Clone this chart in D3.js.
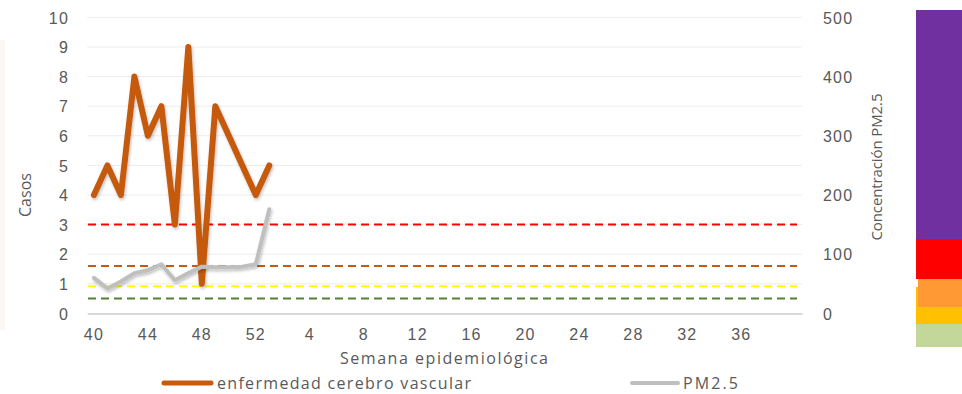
<!DOCTYPE html>
<html>
<head>
<meta charset="utf-8">
<script src="https://cdn.jsdelivr.net/npm/d3@7"></script>
<style>
  body { margin: 0; background: #fff; }
  svg { display: block; font-family: "Open Sans", sans-serif; }
  .tick text { fill: #595959; font-size: 16px; letter-spacing: 1.2px; }
</style>
</head>
<body>
<div id="main"></div>
<script>
// semanas epidemiologicas: 40..52 y luego 1..40
const weeks = d3.range(40, 53).concat(d3.range(1, 41));
const casos = [4, 5, 4, 8, 6, 7, 3, 9, 1, 7, 6, 5, 4, 5];
const pm25 = [60, 42, 54, 68, 73, 83, 56, 68, 79, 78, 78, 79, 83, 176];
const leftTicks = d3.range(0, 11);
const rightTicks = [0, 100, 200, 300, 400, 500];
const limits = [25, 46, 80, 150];
const limitColors = ["#548235", "#FFFF00", "#C55A11", "#FF0000"];
const bandColors = ["#7030A0", "#FF0000", "#FFC000", "#FF9933", "#C4D79B"];

const width = 962;
const height = 394;
const margin = { top: 17.4, right: 160, bottom: 81, left: 87.2 };

const svg = d3.select("#main")
  .append("svg")
  .attr("width", width)
  .attr("height", height);

const defs = svg.append("defs");
const shadow = defs.append("filter").attr("id", "shadow")
  .attr("x", "-20%").attr("y", "-20%").attr("width", "140%").attr("height", "140%");
shadow.append("feDropShadow")
  .attr("dx", 1).attr("dy", 2).attr("stdDeviation", 1.5)
  .attr("flood-color", "#000").attr("flood-opacity", 0.25);

// faint strip at left edge
svg.append("rect")
  .attr("x", 0).attr("y", 40).attr("width", 5).attr("height", 290)
  .attr("fill", "#FCF7F2");

const x = d3.scaleBand()
  .domain(weeks.map((d, i) => i))
  .range([margin.left, 802]);

const yLeft = d3.scaleLinear().domain([0, 10]).range([313.4, margin.top]);
const yRight = d3.scaleLinear().domain([0, 500]).range([313.4, margin.top]);

const cx = i => x(i) + x.bandwidth() / 2;

// gridlines
svg.append("g")
  .selectAll("line")
  .data(leftTicks.filter(d => d > 0))
  .enter()
  .append("line")
  .attr("x1", 87.2).attr("x2", 802)
  .attr("y1", d => yLeft(d)).attr("y2", d => yLeft(d))
  .attr("stroke", "#EDEDED").attr("stroke-width", 1);

// x axis
const xAxis = d3.axisBottom(x)
  .tickValues(weeks.map((d, i) => i).filter(i => i % 4 === 0 && i < 49))
  .tickFormat(i => weeks[i])
  .tickSize(0)
  .tickPadding(15);

const gx = svg.append("g")
  .attr("transform", "translate(0," + yLeft(0) + ")")
  .call(xAxis);
gx.select(".domain").attr("stroke", "#D9D9D9").attr("stroke-width", 2);

// left axis
const gl = svg.append("g")
  .attr("transform", "translate(69,0)")
  .call(d3.axisLeft(yLeft).tickValues(leftTicks).tickSize(0).tickPadding(0));
gl.select(".domain").remove();
gl.selectAll("text").attr("dy", "0.35em");

// right axis
const gr = svg.append("g")
  .attr("transform", "translate(823,0)")
  .call(d3.axisRight(yRight).tickValues(rightTicks).tickSize(0).tickPadding(0));
gr.select(".domain").remove();
gr.selectAll("text").attr("dy", "0.35em");

// threshold lines
svg.append("g")
  .selectAll("line")
  .data(limits)
  .enter()
  .append("line")
  .attr("x1", 88).attr("x2", 797)
  .attr("y1", d => yRight(d)).attr("y2", d => yRight(d))
  .attr("stroke", (d, i) => limitColors[i])
  .attr("stroke-width", 2)
  .attr("stroke-dasharray", "8,5");

// series
const lineCasos = d3.line()
  .x((d, i) => cx(i))
  .y(d => yLeft(d));

const linePm = d3.line()
  .x((d, i) => cx(i))
  .y(d => yRight(d));

svg.append("path")
  .datum(casos)
  .attr("d", lineCasos)
  .attr("fill", "none")
  .attr("stroke", "#C55A11")
  .attr("stroke-width", 6)
  .attr("stroke-linejoin", "round")
  .attr("stroke-linecap", "round")
  .attr("filter", "url(#shadow)");

svg.append("path")
  .datum(pm25)
  .attr("d", linePm)
  .attr("fill", "none")
  .attr("stroke", "#BFBFBF")
  .attr("stroke-width", 4)
  .attr("stroke-linejoin", "round")
  .attr("stroke-linecap", "round")
  .attr("filter", "url(#shadow)");

// axis titles
svg.append("text")
  .attr("transform", "translate(31,195) rotate(-90)")
  .attr("text-anchor", "middle")
  .attr("fill", "#595959")
  .style("font-size", "16px")
  .attr("textLength", 44)
  .text("Casos");

svg.append("text")
  .attr("transform", "translate(882,167) rotate(-90)")
  .attr("text-anchor", "middle")
  .attr("fill", "#595959")
  .style("font-size", "15px")
  .attr("textLength", 147)
  .text("Concentración PM2.5");

svg.append("text")
  .attr("x", 340).attr("y", 364)
  .attr("fill", "#595959")
  .style("font-size", "16px")
  .attr("textLength", 208)
  .text("Semana epidemiológica");

// legend
const legend = svg.append("g");
legend.append("line")
  .attr("x1", 164).attr("x2", 211).attr("y1", 383).attr("y2", 383)
  .attr("stroke", "#C55A11").attr("stroke-width", 5).attr("stroke-linecap", "round");
legend.append("text")
  .attr("x", 217).attr("y", 389)
  .attr("fill", "#595959")
  .style("font-size", "16px")
  .attr("textLength", 254)
  .text("enfermedad cerebro vascular");
legend.append("line")
  .attr("x1", 632).attr("x2", 678).attr("y1", 383).attr("y2", 383)
  .attr("stroke", "#BFBFBF").attr("stroke-width", 4).attr("stroke-linecap", "round");
legend.append("text")
  .attr("x", 683).attr("y", 389)
  .attr("fill", "#595959")
  .style("font-size", "16px")
  .attr("textLength", 55)
  .text("PM2.5");

// colour bar (air quality categories)
const bands = [
  { x: 916, y: 10, h: 229 },
  { x: 916, y: 239, h: 40 },
  { x: 916, y: 287, h: 37 },
  { x: 918, y: 279, h: 28 },
  { x: 916, y: 324, h: 23 }
];
svg.append("g")
  .selectAll("rect")
  .data(bands)
  .enter()
  .append("rect")
  .attr("x", d => d.x)
  .attr("y", d => d.y)
  .attr("width", d => 962 - d.x)
  .attr("height", d => d.h)
  .attr("fill", (d, i) => bandColors[i]);
</script>
</body>
</html>
